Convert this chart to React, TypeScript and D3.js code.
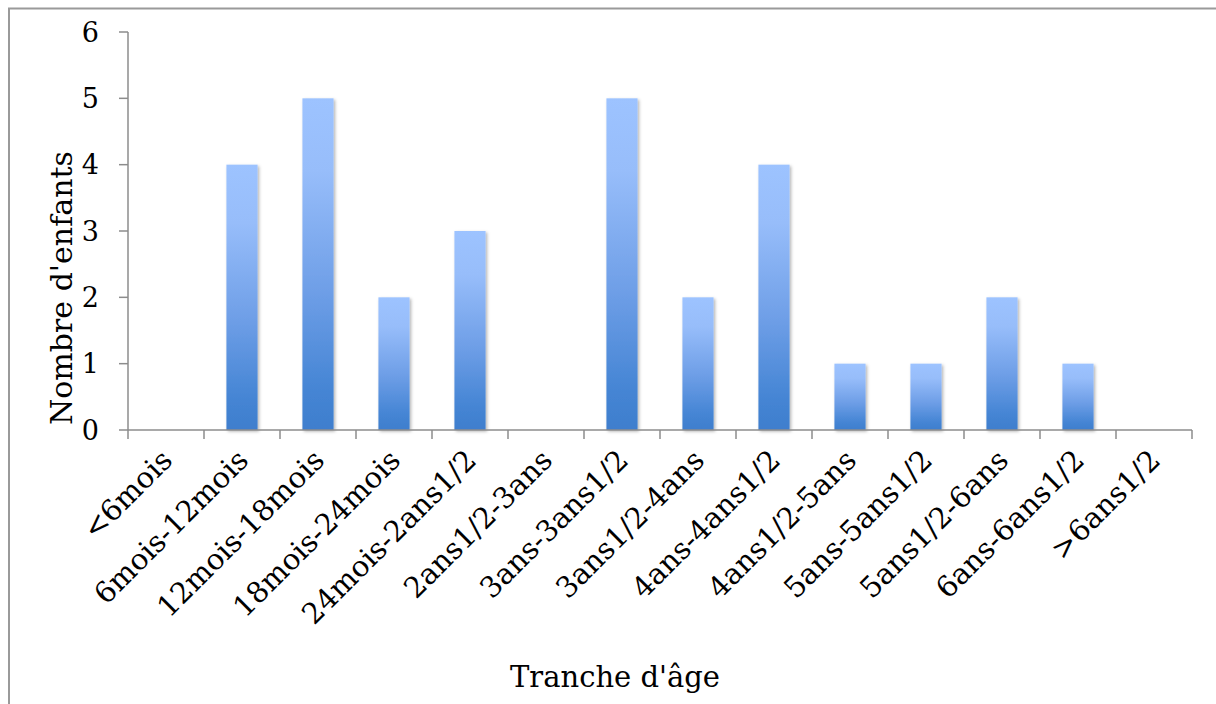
import React from "react";
import * as d3 from "d3";

const categories = [
  "<6mois",
  "6mois-12mois",
  "12mois-18mois",
  "18mois-24mois",
  "24mois-2ans1/2",
  "2ans1/2-3ans",
  "3ans-3ans1/2",
  "3ans1/2-4ans",
  "4ans-4ans1/2",
  "4ans1/2-5ans",
  "5ans-5ans1/2",
  "5ans1/2-6ans",
  "6ans-6ans1/2",
  ">6ans1/2",
];
const values = [0, 4, 5, 2, 3, 0, 5, 2, 4, 1, 1, 2, 1, 0];
const yTicks = [0, 1, 2, 3, 4, 5, 6];
const xTitle = "Tranche d'âge";
const yTitle = "Nombre d'enfants";

const W = 1216;
const H = 704;
const left = 128;
const right = 1192;
const top = 32;
const bottom = 430;
const font = "'DejaVu Serif', serif";
const axisColor = "#8c8c8c";

export default function App() {
  const x = d3.scaleBand<string>().domain(categories).range([left, right]).padding(0);
  const y = d3.scaleLinear().domain([0, 6]).range([bottom, top]);
  const bw = x.bandwidth() * 0.41;
  const boundaries = categories.map((c) => x(c) as number).concat([right]);

  return (
    <svg
      width={W}
      height={H}
      style={{ position: "absolute", left: 0, top: 0, display: "block", background: "#fff" }}
    >
      <defs>
        <linearGradient id="barGrad" x1="0" y1="0" x2="0" y2="1">
          <stop offset="0" stopColor="#9dc3ff" />
          <stop offset="0.22" stopColor="#97bdfa" />
          <stop offset="0.6" stopColor="#6c9de6" />
          <stop offset="0.88" stopColor="#4585d4" />
          <stop offset="1" stopColor="#3f7ecd" />
        </linearGradient>
        <filter id="shadow" x="-30%" y="-10%" width="160%" height="130%">
          <feDropShadow dx="1.5" dy="1.5" stdDeviation="1.5" floodColor="#000" floodOpacity="0.3" />
        </filter>
      </defs>
      <rect x={9} y={8.5} width={1400} height={900} fill="none" stroke="#9a9a9a" strokeWidth={2} />

      {/* bars */}
      {values.map((v, i) =>
        v > 0 ? (
          <rect
            key={i}
            x={(x(categories[i]) as number) + x.bandwidth() / 2 - bw / 2}
            y={y(v)}
            width={bw}
            height={y(0) - y(v)}
            fill="url(#barGrad)"
            filter="url(#shadow)"
          />
        ) : null
      )}

      {/* y axis */}
      <line x1={left} x2={left} y1={top} y2={bottom} stroke={axisColor} strokeWidth={1.5} />
      {yTicks.map((t) => (
        <g key={t}>
          <line x1={left - 9} x2={left} y1={y(t)} y2={y(t)} stroke={axisColor} strokeWidth={1.5} />
          <text
            x={99}
            y={y(t)}
            dy="0.36em"
            textAnchor="end"
            fontFamily={font}
            fontSize={27}
            fill="#000"
          >
            {t}
          </text>
        </g>
      ))}

      {/* x axis */}
      <line x1={left} x2={right} y1={bottom} y2={bottom} stroke={axisColor} strokeWidth={1.5} />
      {boundaries.map((b, i) => (
        <line key={i} x1={b} x2={b} y1={bottom} y2={bottom + 9} stroke={axisColor} strokeWidth={1.5} />
      ))}
      {categories.map((c) => {
        const cx = (x(c) as number) + x.bandwidth() / 2 + 8;
        const cy = 462;
        return (
          <text
            key={c}
            x={cx}
            y={cy}
            transform={`rotate(-45 ${cx} ${cy})`}
            textAnchor="end"
            fontFamily={font}
            fontSize={29}
            fill="#000"
          >
            {c}
          </text>
        );
      })}

      {/* titles */}
      <text x={615} y={687} textAnchor="middle" fontFamily={font} fontSize={29} fill="#000">
        {xTitle}
      </text>
      <text
        x={72}
        y={288}
        transform="rotate(-90 72 288)"
        textAnchor="middle"
        fontFamily={font}
        fontSize={30}
        fill="#000"
      >
        {yTitle}
      </text>
    </svg>
  );
}
